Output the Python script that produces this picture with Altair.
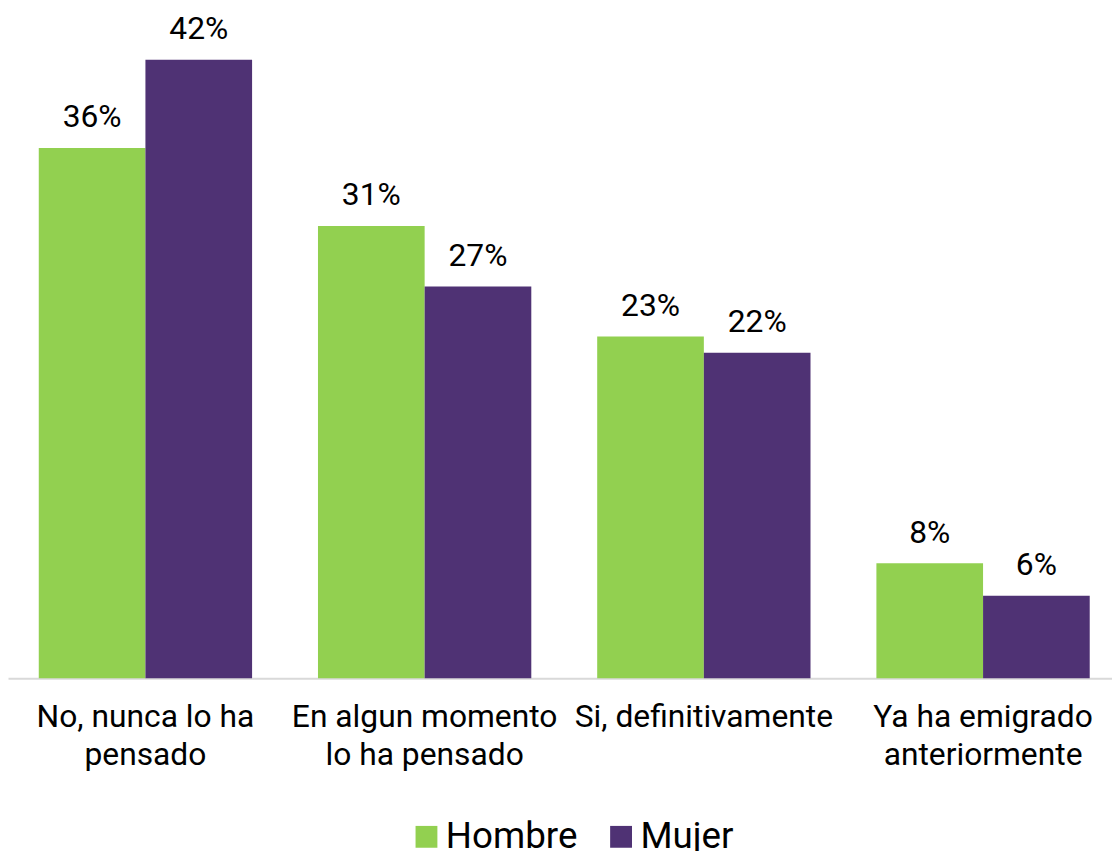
import altair as alt
import pandas as pd

categories = ["No, nunca lo ha|pensado", "En algun momento|lo ha pensado",
              "Si, definitivamente", "Ya ha emigrado|anteriormente"]
hombre = [36.0, 30.7, 23.2, 7.8]
mujer = [42.0, 26.6, 22.1, 5.6]
series = ["Hombre", "Mujer"]
colors = ["#92D050", "#4F3274"]

rows = []
for c, h, m in zip(categories, hombre, mujer):
    rows.append({"cat": c, "sexo": "Hombre", "v": h, "lbl": f"{round(h)}%"})
    rows.append({"cat": c, "sexo": "Mujer", "v": m, "lbl": f"{round(m)}%"})
df = pd.DataFrame(rows)

FONT = "Roboto"

x = alt.X("cat:N", sort=categories,
          scale=alt.Scale(paddingInner=0.236, paddingOuter=0.095, align=0.58),
          axis=alt.Axis(title=None, labelAngle=0, ticks=False, grid=False,
                        domainColor="#d9d9d9", domainWidth=2,
                        labelFontSize=32, labelColor="#000000", labelFont=FONT,
                        labelPadding=24, labelLineHeight=38, labelLimit=400,
                        labelBaseline="top",
                        labelExpr="split(datum.label, '|')"))
y = alt.Y("v:Q", scale=alt.Scale(domain=[0, 45.3], nice=False, zero=True), axis=None)
xo = alt.XOffset("sexo:N", sort=series)
color = alt.Color("sexo:N", sort=series, scale=alt.Scale(domain=series, range=colors),
                  legend=alt.Legend(title=None, orient="none", legendX=403, legendY=813,
                                    direction="horizontal", symbolType="square",
                                    symbolSize=484, symbolStrokeWidth=0,
                                    labelFontSize=37, labelFont=FONT, labelColor="#000000",
                                    columnPadding=25, labelOffset=1, padding=0))

bars = alt.Chart(df).mark_bar().encode(x=x, xOffset=xo, y=y, color=color)
text = alt.Chart(df).mark_text(baseline="bottom", dy=-14, fontSize=32, font=FONT,
                               color="#000000").encode(
    x=alt.X("cat:N", sort=categories), xOffset=xo, y=y, text="lbl:N")

chart = alt.layer(bars, text).properties(
    width=1112, height=672,
    autosize=alt.AutoSizeParams(type="none"),
    padding={"left": 0, "top": 0, "right": 0, "bottom": 180},
).configure_view(stroke=None)

chart.save("out.html", embed_options={"renderer": "svg", "actions": False})
